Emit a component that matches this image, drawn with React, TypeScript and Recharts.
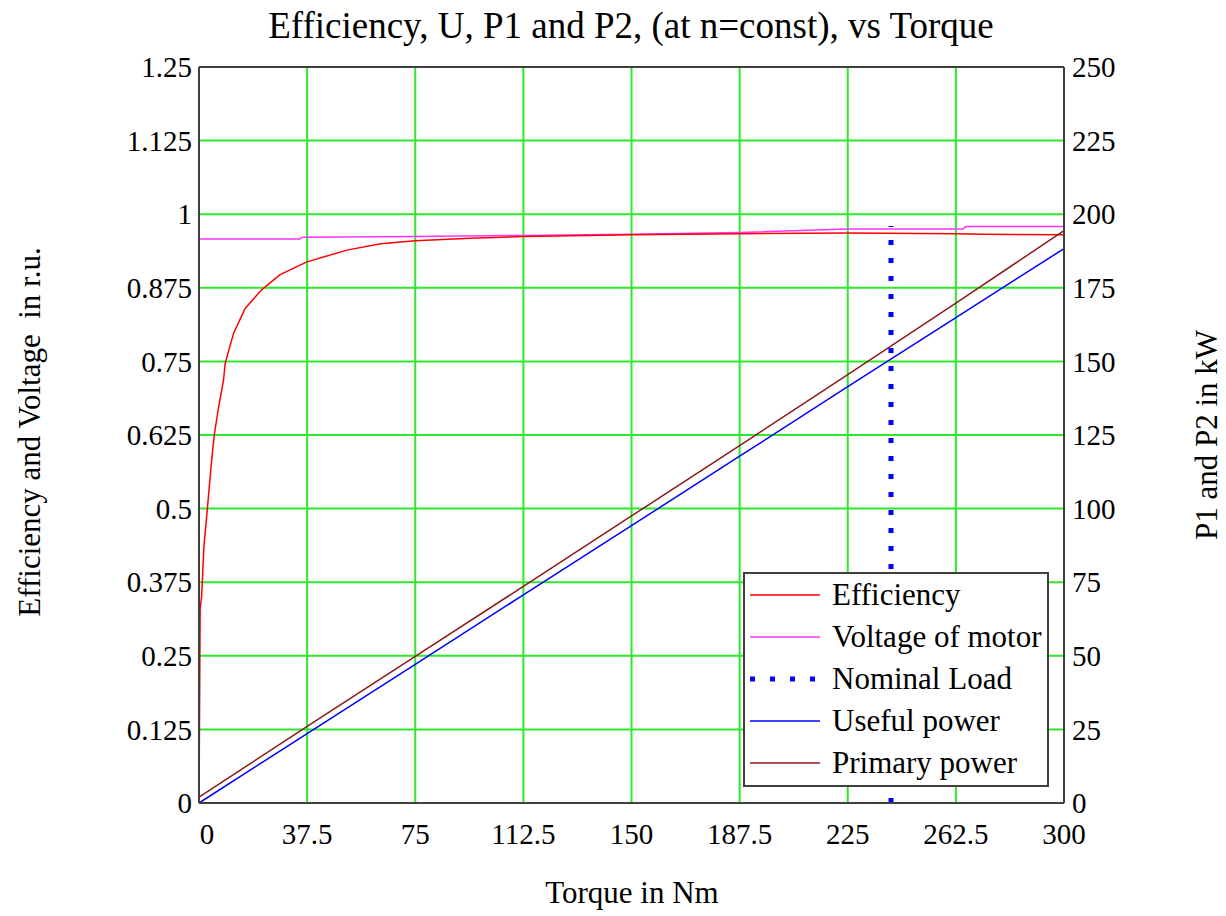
import { LineChart, Line, XAxis, YAxis, CartesianGrid, Legend, ReferenceLine } from "recharts";

const torqueTicks = [0, 37.5, 75, 112.5, 150, 187.5, 225, 262.5, 300];
const leftTicks = [0, 0.125, 0.25, 0.375, 0.5, 0.625, 0.75, 0.875, 1, 1.125, 1.25];
const rightTicks = [0, 25, 50, 75, 100, 125, 150, 175, 200, 225, 250];

// efficiency in r.u. vs torque
const effTorque = [0, 0.4, 0.9, 1.7, 2.9, 4.4, 5.3, 6.7, 8.5, 9.1, 12, 16, 21.8, 28, 37.4, 51.3, 63, 75, 94, 112.5, 150, 187.5, 225, 262.5, 272, 300];
const effValues = [0, 0.33, 0.35, 0.435, 0.5, 0.583, 0.625, 0.67, 0.718, 0.747, 0.798, 0.84, 0.872, 0.897, 0.919, 0.939, 0.95, 0.955, 0.959, 0.962, 0.965, 0.967, 0.968, 0.967, 0.966, 0.965];

// motor voltage in r.u.
const voltTorque = [0, 35, 36, 75, 112.5, 150, 187.5, 225, 265, 266, 300];
const voltValues = [0.958, 0.958, 0.961, 0.962, 0.964, 0.966, 0.969, 0.975, 0.975, 0.979, 0.979];

// powers in kW
const powerTorque = [0, 37.5, 75, 112.5, 150, 187.5, 225, 262.5, 300];
const usefulPower = [0, 23.6, 47.1, 70.7, 94.2, 117.8, 141.4, 164.9, 188.3];
const primaryPower = [2.0, 26.0, 49.8, 73.6, 97.5, 121.4, 145.5, 169.8, 194.4];

const nominalTorque = [240, 240];
const nominalLevel = [0, 0.98];

const zip = (xs: number[], ys: number[]) => xs.map((t, i) => ({ t, v: ys[i] }));

const SERIF = '"Liberation Serif", "Times New Roman", serif';
const AXIS = "#404040";
const GRID = "#2ee82e";

const legendItems = [
  { name: "Efficiency", color: "#ff0000", dotted: false },
  { name: "Voltage of motor", color: "#ff33ff", dotted: false },
  { name: "Nominal Load", color: "#0000ff", dotted: true },
  { name: "Useful power", color: "#0000ff", dotted: false },
  { name: "Primary power", color: "#8b1a1a", dotted: false },
];

function LegendBox() {
  return (
    <div
      style={{
        width: 302,
        height: 211,
        border: `2px solid ${AXIS}`,
        background: "#fff",
        fontFamily: SERIF,
        fontSize: 31,
        color: "#000",
        boxSizing: "content-box",
      }}
    >
      {legendItems.map((it) => (
        <div key={it.name} style={{ display: "flex", alignItems: "center", height: 42, lineHeight: "42px" }}>
          <svg width={84} height={10} style={{ marginLeft: 3, flexShrink: 0 }}>
            <line
              x1={2}
              y1={5}
              x2={72}
              y2={5}
              stroke={it.color}
              strokeWidth={it.dotted ? 5 : 1.5}
              strokeDasharray={it.dotted ? "5 15" : undefined}
            />
          </svg>
          <span style={{ whiteSpace: "nowrap" }}>{it.name}</span>
        </div>
      ))}
    </div>
  );
}

const XTick = (props: any) => {
  const { x, y, payload } = props;
  const dx = payload.value === 0 ? 8 : 0;
  return (
    <text x={x + dx} y={y + 32} textAnchor="middle" dominantBaseline="middle" fontFamily={SERIF} fontSize={29} fill="#000">
      {payload.value}
    </text>
  );
};

const labelStyle = {
  position: "absolute" as const,
  fontFamily: SERIF,
  fontSize: 31,
  color: "#000",
  lineHeight: "32px",
  whiteSpace: "nowrap" as const,
};

export default function App() {
  return (
    <div style={{ position: "absolute", left: 0, top: 0, width: 1226, height: 916, background: "#fff" }}>
      <LineChart width={1226} height={916} margin={{ top: 67, right: 0, bottom: 0, left: 0 }}>
        <CartesianGrid
          yAxisId="left"
          stroke={GRID}
          strokeWidth={2}
          horizontalValues={leftTicks}
          verticalValues={torqueTicks}
        />
        <XAxis
          type="number"
          dataKey="t"
          domain={[0, 300]}
          ticks={torqueTicks}
          allowDataOverflow
          height={113}
          tickLine={false}
          tickSize={0}
          axisLine={{ stroke: AXIS, strokeWidth: 2 }}
          tick={<XTick />}
          interval={0}
        />
        <YAxis
          yAxisId="left"
          orientation="left"
          type="number"
          domain={[0, 1.25]}
          ticks={leftTicks}
          width={199}
          tickLine={false}
          tickSize={0}
          tickMargin={7}
          interval={0}
          axisLine={{ stroke: AXIS, strokeWidth: 2 }}
          tick={{ fontFamily: SERIF, fontSize: 29, fill: "#000" }}
        />
        <YAxis
          yAxisId="right"
          orientation="right"
          type="number"
          domain={[0, 250]}
          ticks={rightTicks}
          width={162}
          tickLine={false}
          tickSize={0}
          tickMargin={8}
          interval={0}
          axisLine={{ stroke: AXIS, strokeWidth: 2 }}
          tick={{ fontFamily: SERIF, fontSize: 29, fill: "#000" }}
        />
        <ReferenceLine yAxisId="left" y={1.25} stroke={AXIS} strokeWidth={2} />
        <Line
          yAxisId="left"
          data={zip(voltTorque, voltValues)}
          dataKey="v"
          name="Voltage of motor"
          type="linear"
          stroke="#ff33ff"
          strokeWidth={1.5}
          dot={false}
          isAnimationActive={false}
        />
        <Line
          yAxisId="left"
          data={zip(effTorque, effValues)}
          dataKey="v"
          name="Efficiency"
          type="linear"
          stroke="#ff0000"
          strokeWidth={1.5}
          dot={false}
          isAnimationActive={false}
        />
        <Line
          yAxisId="right"
          data={zip(powerTorque, usefulPower)}
          dataKey="v"
          name="Useful power"
          type="linear"
          stroke="#0000ff"
          strokeWidth={1.5}
          dot={false}
          isAnimationActive={false}
        />
        <Line
          yAxisId="right"
          data={zip(powerTorque, primaryPower)}
          dataKey="v"
          name="Primary power"
          type="linear"
          stroke="#8b1a1a"
          strokeWidth={1.5}
          dot={false}
          isAnimationActive={false}
        />
        <Line
          yAxisId="left"
          data={zip(nominalTorque, nominalLevel)}
          dataKey="v"
          name="Nominal Load"
          type="linear"
          stroke="#0000ff"
          strokeWidth={5}
          strokeDasharray="5 13"
          dot={false}
          isAnimationActive={false}
        />
        <Legend
          layout="horizontal"
          verticalAlign="middle"
          align="center"
          content={() => <LegendBox />}
          wrapperStyle={{ position: "absolute", left: 743, top: 572, width: 306, height: 215 }}
        />
      </LineChart>
      <div style={{ ...labelStyle, fontSize: 37, lineHeight: "44px", left: 0, width: 1262, top: 4, textAlign: "center" }}>
        Efficiency, U, P1 and P2, (at n=const), vs Torque
      </div>
      <div style={{ ...labelStyle, left: 0, width: 1264, top: 877, textAlign: "center" }}>Torque in Nm</div>
      <div style={{ ...labelStyle, left: 30, top: 432, transform: "translate(-50%, -50%) rotate(-90deg)" }}>
        Efficiency and Voltage &nbsp;in r.u.
      </div>
      <div style={{ ...labelStyle, left: 1207, top: 435, transform: "translate(-50%, -50%) rotate(-90deg)" }}>
        P1 and P2 in kW
      </div>
    </div>
  );
}
